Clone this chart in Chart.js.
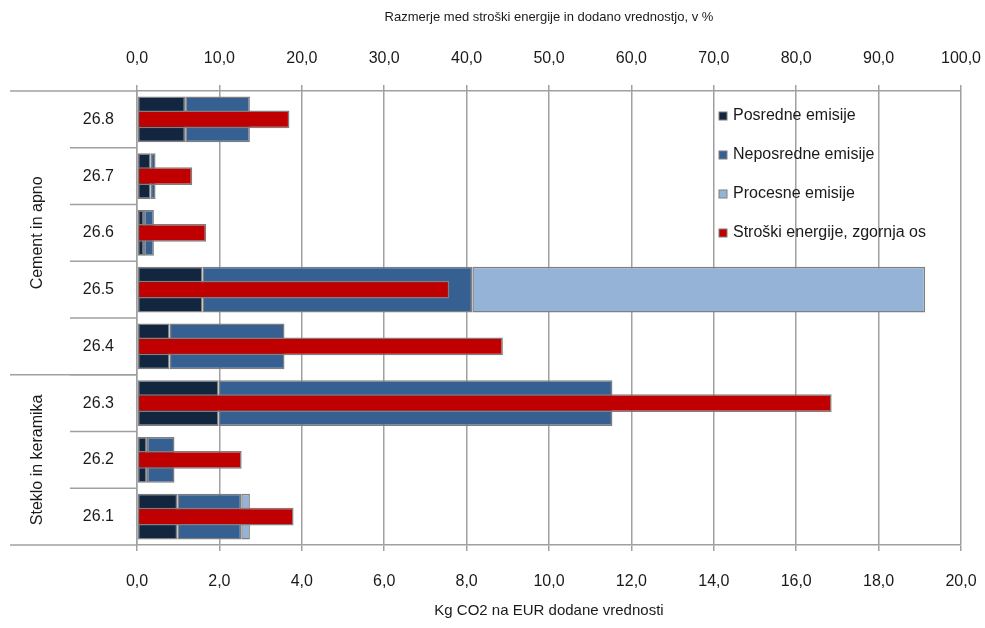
<!DOCTYPE html>
<html>
<head>
<meta charset="utf-8">
<script src="https://cdn.jsdelivr.net/npm/chart.js@4.4.0/dist/chart.umd.min.js"></script>
<style>
  html, body { margin: 0; padding: 0; background: #fff; }
  #wrap { width: 985px; height: 628px; }
</style>
</head>
<body>
<div id="wrap"><canvas id="chartEmisije"></canvas></div>
<script>
const categories = ["26.8", "26.7", "26.6", "26.5", "26.4", "26.3", "26.2", "26.1"];
const posredne = [1.17, 0.33, 0.17, 1.59, 0.79, 1.98, 0.24, 0.98];
const neposredne = [1.57, 0.12, 0.24, 6.55, 2.79, 9.56, 0.67, 1.55];
const procesne = [0, 0, 0, 10.99, 0, 0, 0, 0.21];
const stroski = [18.5, 6.7, 8.4, 37.9, 44.4, 84.3, 12.7, 19.0];
const groupLabels = ["Cement in apno", "Steklo in keramika"];
const groupSizes = [5, 3];

const FONT = "'Liberation Sans', Arial, sans-serif";
const GRID = "#a0a0a0";
const EDGE = "#7f7f7f";

Chart.defaults.font.family = FONT;
Chart.defaults.color = "#1a1a1a";

const fmt = (v) => Number(v).toFixed(1).replace(".", ",");
const edge = (ctx) => (ctx.raw ? 1.5 : 0);

// separators, group labels and the legend drawn inside the plot
const extras = {
  id: "extras",
  afterDatasetsDraw(chart) {
    const { ctx, chartArea, scales } = chart;
    const y = scales.y;
    const half = (y.getPixelForValue(1) - y.getPixelForValue(0)) / 2;
    ctx.save();
    ctx.strokeStyle = GRID;
    ctx.lineWidth = 1.5;
    // short separators between categories
    for (let i = 1; i < categories.length; i++) {
      const py = y.getPixelForValue(i) - half;
      ctx.beginPath();
      ctx.moveTo(70, py);
      ctx.lineTo(chartArea.left, py);
      ctx.stroke();
    }
    // group borders and labels
    let start = 0;
    const bounds = [y.getPixelForValue(0) - half];
    groupSizes.forEach((n, g) => {
      const top = y.getPixelForValue(start) - half;
      const bottom = y.getPixelForValue(start + n - 1) + half;
      bounds.push(bottom);
      ctx.save();
      ctx.translate(38, (top + bottom) / 2);
      ctx.rotate(-Math.PI / 2);
      ctx.fillStyle = "#1a1a1a";
      ctx.font = "16px " + FONT;
      ctx.textAlign = "center";
      ctx.textBaseline = "middle";
      ctx.fillText(groupLabels[g], 0, 0);
      ctx.restore();
      start += n;
    });
    bounds.forEach((py) => {
      ctx.beginPath();
      ctx.moveTo(10, py);
      ctx.lineTo(chartArea.left, py);
      ctx.stroke();
    });
    // legend
    ctx.font = "16px " + FONT;
    ctx.textBaseline = "middle";
    ctx.textAlign = "left";
    chart.data.datasets.forEach((ds, i) => {
      const ly = 116 + i * 39;
      ctx.fillStyle = ds.backgroundColor;
      ctx.fillRect(719, ly - 4, 8, 8);
      ctx.strokeStyle = EDGE;
      ctx.lineWidth = 1;
      ctx.strokeRect(719, ly - 4, 8, 8);
      ctx.fillStyle = "#1a1a1a";
      ctx.fillText(ds.label, 733, ly);
    });
    ctx.restore();
  },
};

new Chart(document.getElementById("chartEmisije"), {
  type: "bar",
  plugins: [extras],
  data: {
    labels: categories,
    datasets: [
      {
        label: "Posredne emisije",
        data: posredne,
        backgroundColor: "#13263f",
        stack: "em",
        order: 1,
      },
      {
        label: "Neposredne emisije",
        data: neposredne,
        backgroundColor: "#376092",
        stack: "em",
        order: 1,
      },
      {
        label: "Procesne emisije",
        data: procesne,
        backgroundColor: "#95b3d7",
        stack: "em",
        order: 1,
      },
      {
        label: "Stroški energije, zgornja os",
        data: stroski,
        backgroundColor: "#c00000",
        xAxisID: "x2",
        stack: "cost",
        order: 0,
        barPercentage: 0.31,
      },
    ],
  },
  options: {
    responsive: true,
    maintainAspectRatio: false,
    animation: false,
    indexAxis: "y",
    layout: { padding: 0 },
    datasets: {
      bar: {
        grouped: false,
        barPercentage: 0.81,
        categoryPercentage: 1,
        borderColor: EDGE,
        borderWidth: edge,
        borderSkipped: false,
      },
    },
    plugins: {
      legend: { display: false },
      tooltip: { enabled: false },
    },
    scales: {
      x: {
        position: "bottom",
        stacked: true,
        min: 0,
        max: 20,
        ticks: { stepSize: 2, callback: fmt, font: { size: 16 }, padding: 21 },
        grid: { color: GRID, lineWidth: 1.5, tickLength: 6 },
        border: { color: GRID, width: 1.5 },
        title: {
          display: true,
          text: "Kg CO2 na EUR dodane vrednosti",
          font: { size: 15 },
          padding: { top: 10, bottom: 8 },
        },
        afterFit: (scale) => {
          scale.height = 83;
          scale.paddingRight = 24;
          scale.paddingLeft = 0;
        },
      },
      x2: {
        position: "top",
        stacked: true,
        min: 0,
        max: 100,
        ticks: { stepSize: 10, callback: fmt, font: { size: 16 }, padding: 17 },
        grid: { color: GRID, lineWidth: 1.5, tickLength: 6, drawOnChartArea: false },
        border: { color: GRID, width: 1.5 },
        title: {
          display: true,
          text: "Razmerje med stroški energije in dodano vrednostjo, v %",
          font: { size: 13 },
          padding: { top: 10, bottom: 10 },
        },
        afterFit: (scale) => {
          scale.height = 91;
          scale.paddingRight = 24;
          scale.paddingLeft = 0;
        },
      },
      y: {
        stacked: true,
        ticks: { font: { size: 16 }, padding: 15 },
        grid: { display: false },
        border: { color: GRID, width: 1.5 },
        afterFit: (scale) => { scale.width = 137; },
      },
    },
  },
});
</script>
</body>
</html>
